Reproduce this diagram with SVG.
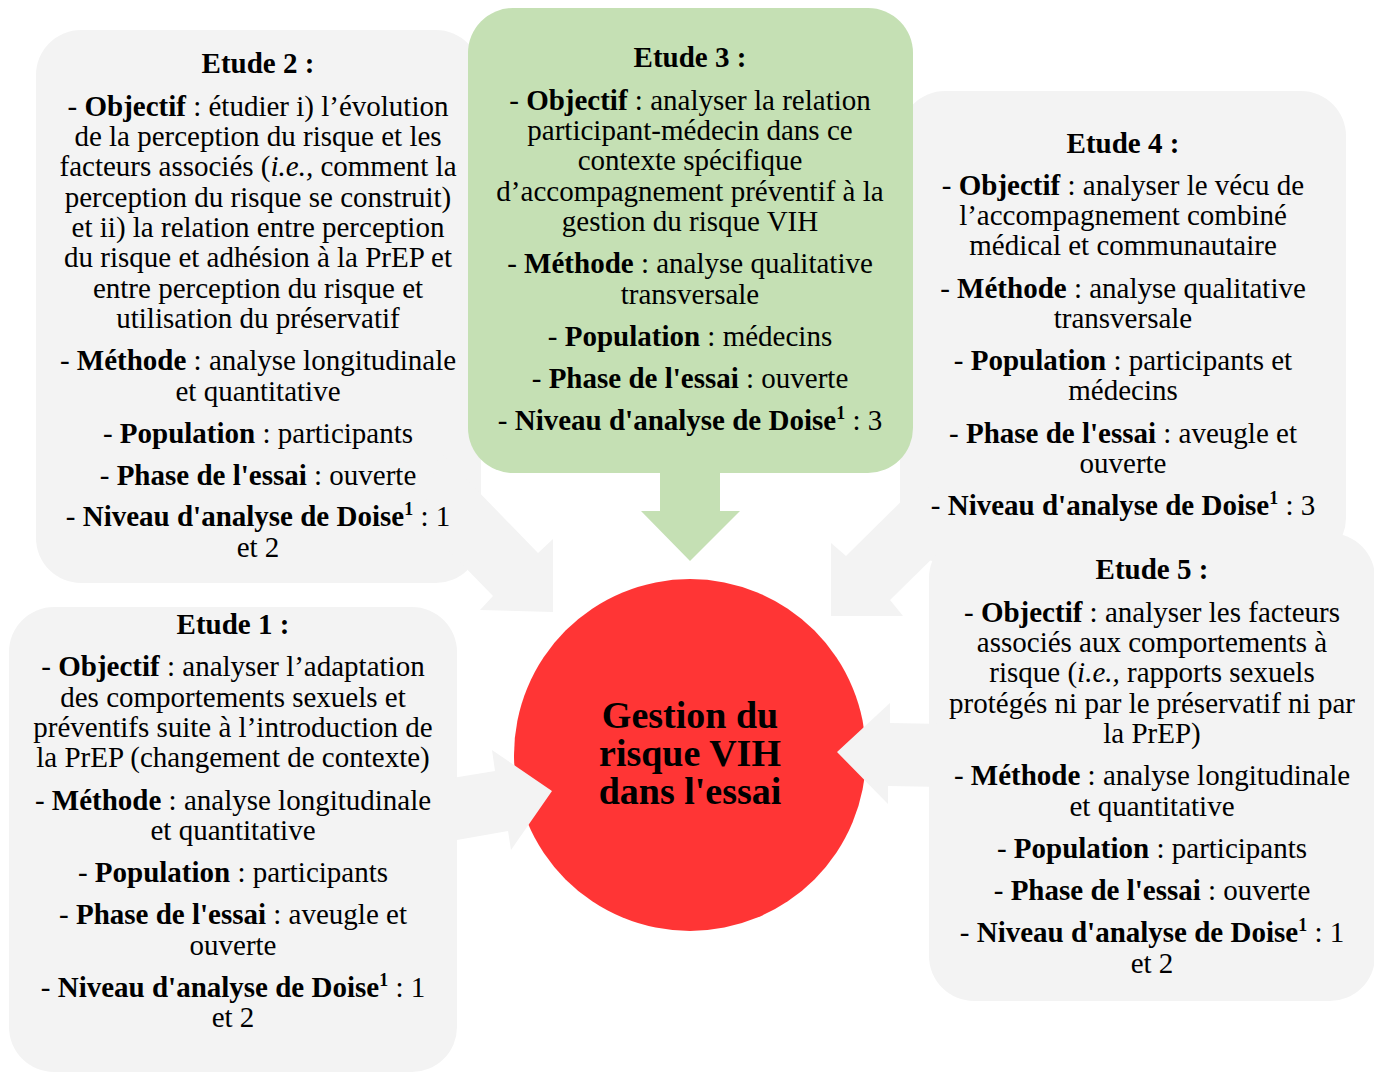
<svg xmlns="http://www.w3.org/2000/svg" width="1374" height="1073" viewBox="0 0 1374 1073">
<style>
.box{fill:#F3F3F3}
.green{fill:#C5E0B4}
.t{font-family:"Liberation Serif","Times New Roman",serif;font-size:29px;fill:#000;text-anchor:middle}
.b{font-weight:bold}
.i{font-style:italic}
.s{font-size:18px;font-weight:bold}
.c{font-family:"Liberation Serif","Times New Roman",serif;font-size:38px;font-weight:bold;fill:#000;text-anchor:middle}
</style>
<rect width="1374" height="1073" fill="#FFFFFF"/>
<g id="center">
<circle cx="690" cy="755" r="176" fill="#FF3535"/>
</g>
<g id="etude2">
<rect class="box" x="36" y="30" width="445" height="553" rx="45"/>
</g>
<g id="etude4">
<rect class="box" x="900" y="91" width="446" height="472" rx="45"/>
</g>
<g id="etude3">
<rect class="green" x="468" y="8" width="445" height="465" rx="45"/>
</g>
<g id="etude5">
<rect class="box" x="929" y="533" width="446" height="468" rx="45"/>
</g>
<g id="etude1">
<rect class="box" x="9" y="607" width="448" height="465" rx="45"/>
</g>
<g id="connectors">
<polygon class="box" points="440,452 538,553 553,539 553,612 480,610 493,596 420,521"/>
<polygon class="green" points="660,460 660,511 641,511 690,561 740,511 720,511 720,460"/>
<polygon class="box" points="925,478 846,556 831,543 831,616 903,616 890,600 950,541"/>
<polygon class="box" points="440,780 495,771 492,750 552,791 511,850 508,831 440,843"/>
<polygon class="box" points="945,724 890,723 890,703 837,752 888,804 888,786 945,787"/>
</g>
<g id="etude2-text">
<text class="t b" x="258" y="73">Etude 2 :</text>
<text class="t" x="258" y="116">- <tspan class="b">Objectif</tspan> : étudier i) l’évolution</text>
<text class="t" x="258" y="146">de la perception du risque et les</text>
<text class="t" x="258" y="176">facteurs associés (<tspan class="i">i.e.,</tspan> comment la</text>
<text class="t" x="258" y="207">perception du risque se construit)</text>
<text class="t" x="258" y="237">et ii) la relation entre perception</text>
<text class="t" x="258" y="267">du risque et adhésion à la PrEP et</text>
<text class="t" x="258" y="298">entre perception du risque et</text>
<text class="t" x="258" y="328">utilisation du préservatif</text>
<text class="t" x="258" y="370">- <tspan class="b">Méthode</tspan> : analyse longitudinale</text>
<text class="t" x="258" y="401">et quantitative</text>
<text class="t" x="258" y="443">- <tspan class="b">Population</tspan> : participants</text>
<text class="t" x="258" y="485">- <tspan class="b">Phase de l'essai</tspan> : ouverte</text>
<text class="t" x="258" y="526">- <tspan class="b">Niveau d'analyse de Doise</tspan><tspan class="s" dy="-11">1</tspan><tspan dy="11"> : 1</tspan></text>
<text class="t" x="258" y="557">et 2</text>
</g>
<g id="etude3-text">
<text class="t b" x="690" y="67">Etude 3 :</text>
<text class="t" x="690" y="110">- <tspan class="b">Objectif</tspan> : analyser la relation</text>
<text class="t" x="690" y="140">participant-médecin dans ce</text>
<text class="t" x="690" y="170">contexte spécifique</text>
<text class="t" x="690" y="201">d’accompagnement préventif à la</text>
<text class="t" x="690" y="231">gestion du risque VIH</text>
<text class="t" x="690" y="273">- <tspan class="b">Méthode</tspan> : analyse qualitative</text>
<text class="t" x="690" y="304">transversale</text>
<text class="t" x="690" y="346">- <tspan class="b">Population</tspan> : médecins</text>
<text class="t" x="690" y="388">- <tspan class="b">Phase de l'essai</tspan> : ouverte</text>
<text class="t" x="690" y="430">- <tspan class="b">Niveau d'analyse de Doise</tspan><tspan class="s" dy="-11">1</tspan><tspan dy="11"> : 3</tspan></text>
</g>
<g id="etude4-text">
<text class="t b" x="1123" y="153">Etude 4 :</text>
<text class="t" x="1123" y="195">- <tspan class="b">Objectif</tspan> : analyser le vécu de</text>
<text class="t" x="1123" y="225">l’accompagnement combiné</text>
<text class="t" x="1123" y="255">médical et communautaire</text>
<text class="t" x="1123" y="298">- <tspan class="b">Méthode</tspan> : analyse qualitative</text>
<text class="t" x="1123" y="328">transversale</text>
<text class="t" x="1123" y="370">- <tspan class="b">Population</tspan> : participants et</text>
<text class="t" x="1123" y="400">médecins</text>
<text class="t" x="1123" y="443">- <tspan class="b">Phase de l'essai</tspan> : aveugle et</text>
<text class="t" x="1123" y="473">ouverte</text>
<text class="t" x="1123" y="515">- <tspan class="b">Niveau d'analyse de Doise</tspan><tspan class="s" dy="-11">1</tspan><tspan dy="11"> : 3</tspan></text>
</g>
<g id="etude5-text">
<text class="t b" x="1152" y="579">Etude 5 :</text>
<text class="t" x="1152" y="622">- <tspan class="b">Objectif</tspan> : analyser les facteurs</text>
<text class="t" x="1152" y="652">associés aux comportements à</text>
<text class="t" x="1152" y="682">risque (<tspan class="i">i.e.,</tspan> rapports sexuels</text>
<text class="t" x="1152" y="713">protégés ni par le préservatif ni par</text>
<text class="t" x="1152" y="743">la PrEP)</text>
<text class="t" x="1152" y="785">- <tspan class="b">Méthode</tspan> : analyse longitudinale</text>
<text class="t" x="1152" y="816">et quantitative</text>
<text class="t" x="1152" y="858">- <tspan class="b">Population</tspan> : participants</text>
<text class="t" x="1152" y="900">- <tspan class="b">Phase de l'essai</tspan> : ouverte</text>
<text class="t" x="1152" y="942">- <tspan class="b">Niveau d'analyse de Doise</tspan><tspan class="s" dy="-11">1</tspan><tspan dy="11"> : 1</tspan></text>
<text class="t" x="1152" y="973">et 2</text>
</g>
<g id="etude1-text">
<text class="t b" x="233" y="634">Etude 1 :</text>
<text class="t" x="233" y="676">- <tspan class="b">Objectif</tspan> : analyser l’adaptation</text>
<text class="t" x="233" y="707">des comportements sexuels et</text>
<text class="t" x="233" y="737">préventifs suite à l’introduction de</text>
<text class="t" x="233" y="767">la PrEP (changement de contexte)</text>
<text class="t" x="233" y="810">- <tspan class="b">Méthode</tspan> : analyse longitudinale</text>
<text class="t" x="233" y="840">et quantitative</text>
<text class="t" x="233" y="882">- <tspan class="b">Population</tspan> : participants</text>
<text class="t" x="233" y="924">- <tspan class="b">Phase de l'essai</tspan> : aveugle et</text>
<text class="t" x="233" y="955">ouverte</text>
<text class="t" x="233" y="997">- <tspan class="b">Niveau d'analyse de Doise</tspan><tspan class="s" dy="-11">1</tspan><tspan dy="11"> : 1</tspan></text>
<text class="t" x="233" y="1027">et 2</text>
</g>
<g id="center-text">
<text class="c" x="690" y="728">Gestion du</text>
<text class="c" x="690" y="766">risque VIH</text>
<text class="c" x="690" y="804">dans l'essai</text>
</g>
</svg>
